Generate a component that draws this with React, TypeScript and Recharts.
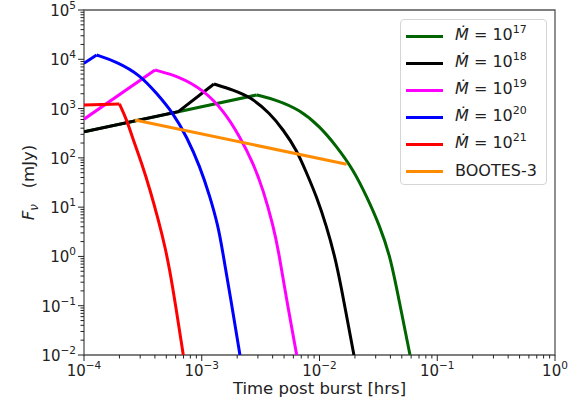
import React from 'react';
import { LineChart, Line, XAxis, YAxis, ReferenceArea } from 'recharts';

// Ṁ = 10^17 (green)
const m17Time = [1e-4, 6.32e-4, 2.93e-3, 4.34e-3, 6.82e-3, 1.01e-2, 1.4e-2, 1.94e-2, 2.52e-2, 3.27e-2, 3.97e-2, 4.38e-2, 5.87e-2];
const m17Flux = [340, 865, 1890, 1490, 938, 430, 169, 56.9, 16.3, 4.02, 0.99, 0.333, 0.01];
// Ṁ = 10^18 (black)
const m18Time = [1e-4, 6.32e-4, 1.27e-3, 1.85e-3, 2.57e-3, 3.8e-3, 4.93e-3, 6.4e-3, 7.78e-3, 9.46e-3, 1.15e-2, 1.35e-2, 1.49e-2, 1.96e-2];
const m18Flux = [340, 865, 3155, 2380, 1742, 804, 368, 145, 48.8, 16.3, 4.02, 0.99, 0.333, 0.01];
// Ṁ = 10^19 (magenta)
const m19Time = [1e-4, 4.01e-4, 6.53e-4, 1.03e-3, 1.52e-3, 2.11e-3, 2.74e-3, 3.33e-3, 4.06e-3, 4.47e-3, 5.26e-3, 6.4e-3];
const m19Flux = [610, 6070, 4440, 2380, 938, 269, 77.6, 22.3, 4.02, 1.36, 0.131, 0.01];
// Ṁ = 10^20 (blue)
const m20Time = [1e-4, 1.28e-4, 1.9e-4, 2.99e-4, 4.14e-4, 5.73e-4, 7.45e-4, 9.66e-4, 1.175e-3, 1.38e-3, 1.486e-3, 1.77e-3, 2.11e-3];
const m20Flux = [8300, 12200, 8930, 4810, 2040, 804, 269, 66.4, 16.3, 4.02, 1.49, 0.131, 0.01];
// Ṁ = 10^21 (red)
const m21Time = [1e-4, 2.0e-4, 2.31e-4, 2.62e-4, 3.09e-4, 3.64e-4, 4.28e-4, 4.88e-4, 5.56e-4, 6.97e-4];
const m21Flux = [1183, 1239, 587, 231, 77.6, 22.3, 5.5, 1.58, 0.333, 0.01];
// BOOTES-3
const bootesTime = [2.71e-4, 1.7e-2];
const bootesFlux = [587, 74];

const modelExponents = ['17', '18', '19', '20', '21'];
const modelColors = ['#006400', '#000000', '#ff00ff', '#0000ff', '#ff0000'];
const bootesName = 'BOOTES-3';
const bootesColor = '#ff8c00';

const xMajor = [1e-4, 1e-3, 1e-2, 1e-1, 1];
const yMajor = [1e-2, 1e-1, 1, 1e1, 1e2, 1e3, 1e4, 1e5];

const FONT = '"DejaVu Sans", sans-serif';
const TXT = '#222';

function withMinors(majors: number[]): number[] {
  const out: number[] = [];
  for (let i = 0; i < majors.length; i++) {
    out.push(majors[i]);
    if (i < majors.length - 1) {
      for (let k = 2; k <= 9; k++) out.push(Number((k * majors[i]).toPrecision(6)));
    }
  }
  return out;
}

const xTicks = withMinors(xMajor);
const yTicks = withMinors(yMajor);

function expOf(v: number) {
  const l = Math.log10(v);
  const e = Math.round(l);
  return { e, major: Math.abs(l - e) < 1e-6 };
}
function expStr(e: number) {
  return e < 0 ? '\u2212' + String(-e) : String(e);
}

const XTick = (props: any) => {
  const { x, y, payload } = props;
  const { e, major } = expOf(payload.value);
  return (
    <g>
      <line x1={x} x2={x} y1={y} y2={y + (major ? 6 : 3.5)} stroke={TXT} strokeWidth={1} />
      {major && (
        <text x={x} y={y + 21} textAnchor="middle" fontSize={15} fill={TXT} fontFamily={FONT}>
          10<tspan dy={-7} fontSize={10.5}>{expStr(e)}</tspan>
        </text>
      )}
    </g>
  );
};

const YTick = (props: any) => {
  const { x, y, payload } = props;
  const { e, major } = expOf(payload.value);
  return (
    <g>
      <line x1={x - (major ? 6 : 3.5)} x2={x} y1={y} y2={y} stroke={TXT} strokeWidth={1} />
      {major && (
        <text x={x - 8} y={y + 6} textAnchor="end" fontSize={15} fill={TXT} fontFamily={FONT}>
          10<tspan dy={-7} fontSize={10.5}>{expStr(e)}</tspan>
        </text>
      )}
    </g>
  );
};

function toPoints(t: number[], f: number[]) {
  return t.map((v, i) => ({ t: v, f: f[i] }));
}

function splitAtPeak(pts: { t: number; f: number }[]) {
  let p = 0;
  pts.forEach((d, i) => {
    if (d.f > pts[p].f) p = i;
  });
  return { rise: pts.slice(0, p + 1), fall: pts.slice(p) };
}

const models = [
  toPoints(m17Time, m17Flux),
  toPoints(m18Time, m18Flux),
  toPoints(m19Time, m19Flux),
  toPoints(m20Time, m20Flux),
  toPoints(m21Time, m21Flux),
];
const bootes = toPoints(bootesTime, bootesFlux);

const W = 583;
const H = 405;

export default function App() {
  return (
    <div style={{ position: 'absolute', left: 0, top: 0, width: W, height: H, fontFamily: FONT }}>
      <style>{'svg.recharts-surface{overflow:visible}'}</style>
      <LineChart width={W} height={H} margin={{ top: 10, right: 28, left: 0, bottom: 0 }}>
        <XAxis
          dataKey="t"
          type="number"
          scale="log"
          domain={[1e-4, 1]}
          allowDataOverflow
          ticks={xTicks}
          interval={0}
          tick={<XTick />}
          tickLine={false}
          axisLine={false}
          tickSize={0}
          tickMargin={0}
          height={50}
        />
        <YAxis
          dataKey="f"
          type="number"
          scale="log"
          domain={[1e-2, 1e5]}
          allowDataOverflow
          ticks={yTicks}
          interval={0}
          tick={<YTick />}
          tickLine={false}
          axisLine={false}
          tickSize={0}
          tickMargin={0}
          width={84}
        />
        <ReferenceArea x1={1e-4} x2={1} y1={1e-2} y2={1e5} fill="none" stroke="#555" strokeWidth={1.3} ifOverflow="visible" />
        {models.map((pts, i) => {
          const { rise, fall } = splitAtPeak(pts);
          return (
            <React.Fragment key={i}>
              <Line data={rise} dataKey="f" type="linear" stroke={modelColors[i]} strokeWidth={3} dot={false} isAnimationActive={false} />
              <Line data={fall} dataKey="f" type="basis" stroke={modelColors[i]} strokeWidth={3} dot={false} isAnimationActive={false} />
            </React.Fragment>
          );
        })}
        <Line data={bootes} dataKey="f" type="linear" stroke={bootesColor} strokeWidth={3} dot={false} isAnimationActive={false} />
      </LineChart>

      <svg width={W} height={H} style={{ position: 'absolute', left: 0, top: 0, pointerEvents: 'none' }}>
        <text x={319.5} y={394} textAnchor="middle" fontSize={16.5} fill={TXT} fontFamily={FONT}>
          Time post burst [hrs]
        </text>
        <text
          transform="rotate(-90, 34, 182.5)"
          x={34}
          y={182.5}
          textAnchor="middle"
          fontSize={16.5}
          fill={TXT}
          fontFamily={FONT}
          style={{ whiteSpace: 'pre' }}
        >
          <tspan fontStyle="italic">F</tspan>
          <tspan dy={4} fontSize={12} fontStyle="italic">ν</tspan>
          <tspan dy={-4}>{'   (mJy)'}</tspan>
        </text>
      </svg>

      <div
        style={{
          position: 'absolute',
          left: 400,
          top: 19,
          width: 145,
          height: 164,
          border: '1px solid #d5d5d5',
          borderRadius: 4,
          background: 'rgba(255,255,255,0.8)',
          boxSizing: 'content-box',
        }}
      >
        {[...modelExponents.map((e, i) => ({ key: e, color: modelColors[i], exp: e as string | null })), { key: 'b', color: bootesColor, exp: null }].map(
          (row, i) => (
            <div
              key={row.key}
              style={{ position: 'absolute', left: 5, top: 16 + i * 27 - 13, height: 26, display: 'flex', alignItems: 'center' }}
            >
              <div style={{ width: 37, height: 3, background: row.color }} />
              <div style={{ marginLeft: 12, fontSize: 16, color: TXT, whiteSpace: 'nowrap', lineHeight: '26px' }}>
                {row.exp ? (
                  <>
                    <span style={{ fontStyle: 'italic' }}>{'\u1E40'}</span>
                    {' = 10'}
                    <sup style={{ fontSize: 11, verticalAlign: 'baseline', position: 'relative', top: -7 }}>{row.exp}</sup>
                  </>
                ) : (
                  bootesName
                )}
              </div>
            </div>
          )
        )}
      </div>
    </div>
  );
}
